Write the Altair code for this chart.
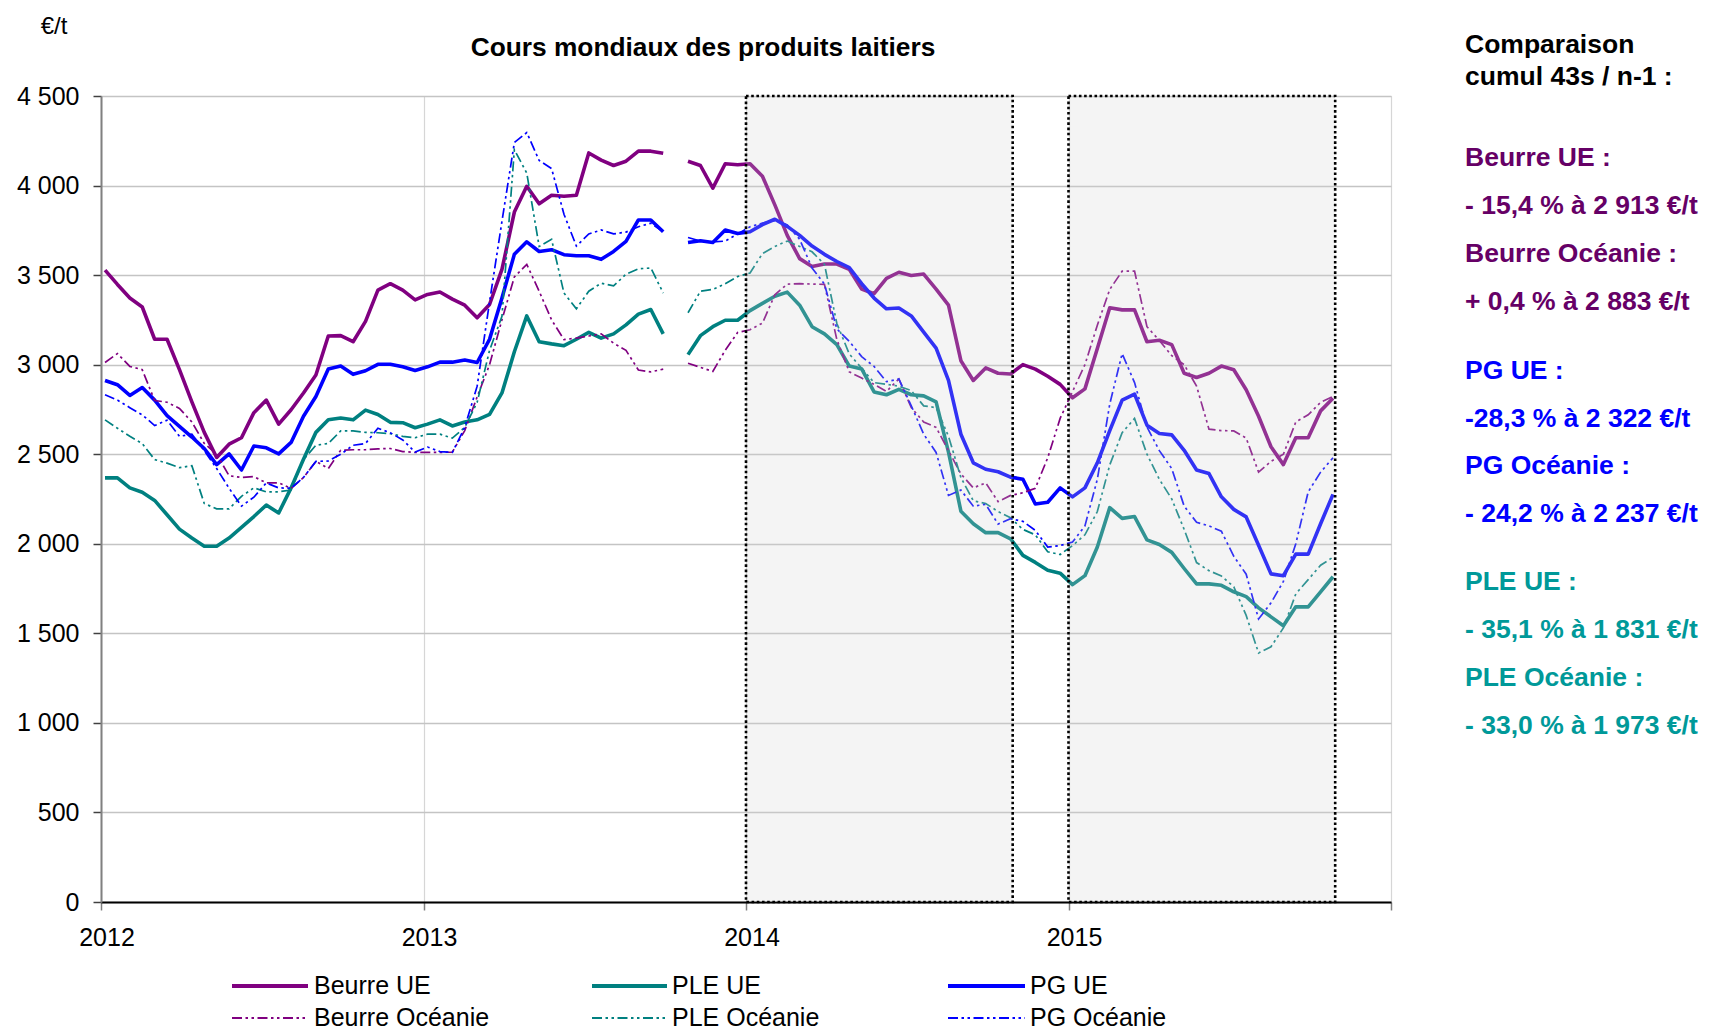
import altair as alt
import pandas as pd

# ---------------- data ----------------
series = ["Beurre UE", "PLE UE", "PG UE", "Beurre Océanie", "PLE Océanie", "PG Océanie"]
series_colors = ["#800080", "#008080", "#0000ff", "#800080", "#008080", "#0000ff"]

# one point every two weeks, from 2012 week 1 to 2015 week 43 (None = missing)
beurre_ue = [3528, 3448, 3372, 3322, 3142, 3142, 2972, 2792, 2622, 2482,
             2556, 2592, 2732, 2802, 2668, 2748, 2842, 2942, 3160, 3162,
             3128, 3242, 3416, 3452, 3416, 3362, 3392, 3406, 3366, 3332,
             3262, 3336, 3532, 3852, 3996, 3898, 3946, 3940, 3946, 4182,
             4142, 4112, 4136, 4192, 4192, 4180, None, 4136, 4112, 3986,
             4122, 4116, 4122, 4052, 3892, 3722, 3592, 3548, 3562, 3562,
             3532, 3422, 3396, 3482, 3516, 3498, 3506, 3422, 3332, 3022,
             2912, 2982, 2952, 2948, 3000, 2975, 2935, 2890, 2815, 2865,
             3090, 3318, 3306, 3306, 3128, 3136, 3112, 2952, 2928, 2952,
             2992, 2972, 2860, 2712, 2542, 2442, 2592, 2592, 2742, 2812]
ple_ue = [2368, 2368, 2312, 2288, 2242, 2162, 2082, 2032, 1986, 1986,
          2032, 2092, 2152, 2216, 2172, 2312, 2472, 2622, 2692, 2702,
          2692, 2746, 2722, 2678, 2676, 2648, 2668, 2692, 2658, 2680,
          2692, 2722, 2842, 3072, 3272, 3128, 3116, 3106, 3142, 3180,
          3148, 3172, 3222, 3282, 3308, 3172, None, 3056, 3162, 3212,
          3248, 3248, 3302, 3342, 3382, 3405, 3332, 3212, 3172, 3112,
          2992, 2976, 2848, 2832, 2862, 2832, 2826, 2792, 2512, 2182,
          2112, 2062, 2062, 2028, 1935, 1896, 1852, 1836, 1772, 1822,
          1982, 2202, 2142, 2152, 2022, 1996, 1952, 1862, 1776, 1776,
          1768, 1732, 1705, 1642, 1592, 1542, 1648, 1648, 1732, 1816]
pg_ue = [2912, 2888, 2828, 2872, 2802, 2716, 2656, 2596, 2532, 2442,
         2502, 2412, 2546, 2536, 2502, 2566, 2712, 2822, 2976, 2992,
         2946, 2966, 3002, 3002, 2988, 2968, 2988, 3014, 3014, 3026,
         3012, 3142, 3372, 3616, 3686, 3632, 3642, 3614, 3608, 3608,
         3588, 3632, 3688, 3808, 3808, 3742, None, 3682, 3692, 3682,
         3752, 3732, 3742, 3782, 3812, 3772, 3722, 3662, 3616, 3576,
         3542, 3452, 3372, 3312, 3316, 3272, 3182, 3092, 2912, 2612,
         2452, 2416, 2402, 2372, 2360, 2222, 2232, 2312, 2262, 2312,
         2452, 2632, 2802, 2836, 2662, 2616, 2608, 2522, 2412, 2392,
         2262, 2192, 2150, 1992, 1832, 1822, 1942, 1942, 2112, 2276]
beurre_oce = [3012, 3062, 2990, 2972, 2800, 2790, 2756, 2680, 2560, 2500,
              2380, 2370, 2375, 2340, 2340, 2310, 2370, 2460, 2420, 2522,
              2525, 2525, 2530, 2532, 2515, 2510, 2510, 2510, 2512, 2632,
              2820, 3000, 3250, 3490, 3560, 3410, 3250, 3140, 3148, 3160,
              3172, 3120, 3080, 2970, 2960, 2975, None, 3008, 2985, 2962,
              3080, 3180, 3195, 3232, 3390, 3450, 3452, 3450, 3448, 3140,
              2960, 2925, 2890, 2850, 2920, 2760, 2680, 2650, 2520, 2390,
              2312, 2340, 2235, 2270, 2285, 2310, 2480, 2700, 2850, 3000,
              3220, 3420, 3522, 3522, 3212, 3135, 3050, 3000, 2880, 2640,
              2632, 2630, 2590, 2400, 2460, 2500, 2680, 2720, 2790, 2822]
ple_oce = [2692, 2645, 2600, 2560, 2470, 2450, 2425, 2436, 2225, 2195,
           2195, 2265, 2312, 2290, 2290, 2300, 2470, 2550, 2560, 2630,
           2630, 2622, 2620, 2615, 2600, 2592, 2612, 2612, 2590, 2650,
           2790, 3080, 3270, 4200, 4070, 3660, 3700, 3400, 3312, 3410,
           3455, 3440, 3505, 3535, 3540, 3400, None, 3290, 3410, 3420,
           3452, 3492, 3512, 3620, 3660, 3690, 3660, 3630, 3560, 3230,
           3060, 2980, 2900, 2890, 2880, 2855, 2770, 2760, 2600, 2370,
           2240, 2225, 2180, 2145, 2080, 2050, 1955, 1940, 1990, 2050,
           2180, 2440, 2620, 2700, 2500, 2360, 2250, 2080, 1895, 1850,
           1820, 1760, 1600, 1390, 1425, 1530, 1720, 1800, 1880, 1925]
pg_oce = [2832, 2802, 2760, 2720, 2660, 2690, 2600, 2612, 2520, 2420,
          2310, 2210, 2260, 2340, 2312, 2310, 2370, 2460, 2462, 2500,
          2550, 2560, 2645, 2620, 2580, 2512, 2540, 2515, 2510, 2650,
          2880, 3350, 3800, 4240, 4296, 4140, 4095, 3840, 3662, 3730,
          3752, 3730, 3740, 3770, 3790, 3742, None, 3710, 3690, 3685,
          3690, 3730, 3770, 3790, 3805, 3780, 3700, 3540, 3450, 3200,
          3130, 3045, 2990, 2905, 2920, 2770, 2612, 2510, 2270, 2300,
          2210, 2220, 2110, 2140, 2125, 2075, 1982, 1990, 2010, 2100,
          2360, 2780, 3062, 2900, 2652, 2520, 2420, 2210, 2120, 2100,
          2070, 1930, 1830, 1580, 1670, 1790, 2000, 2290, 2400, 2480]

n_points = len(beurre_ue)
annee = [2012 + (2 * k) // 52 for k in range(n_points)]
semaine = [(2 * k) % 52 + 1 for k in range(n_points)]
x_pos = [a + (s - 0.35) / 52 for a, s in zip(annee, semaine)]

values_by_series = {
    "Beurre UE": beurre_ue, "PLE UE": ple_ue, "PG UE": pg_ue,
    "Beurre Océanie": beurre_oce, "PLE Océanie": ple_oce, "PG Océanie": pg_oce,
}

# shaded periods: weeks 1-43 of 2014 and of 2015
shade_years = [2014, 2015]
shade_last_week = 43

x_ticks = [2012, 2013, 2014, 2015, 2016]
x_labels = ["2012", "2013", "2014", "2015"]
y_ticks = [0, 500, 1000, 1500, 2000, 2500, 3000, 3500, 4000, 4500]

title_text = "Cours mondiaux  des produits laitiers"
unit_text = "€/t"
side_texts = ["Comparaison", "cumul 43s / n-1 :",
              "Beurre UE :", "- 15,4 % à 2 913 €/t",
              "Beurre Océanie :", "+ 0,4 % à 2 883 €/t",
              "PG UE :", "-28,3 % à 2 322 €/t",
              "PG Océanie :", "- 24,2 % à 2 237 €/t",
              "PLE UE :", "- 35,1 % à 1 831 €/t",
              "PLE Océanie :", "- 33,0 % à 1 973 €/t"]
side_colors = ["#000000", "#000000",
               "#660066", "#660066", "#660066", "#660066",
               "#0000ff", "#0000ff", "#0000ff", "#0000ff",
               "#009999", "#009999", "#009999", "#009999"]

# ---------------- build tables ----------------
rows = []
for s in series:
    for xv, v in zip(x_pos, values_by_series[s]):
        rows.append({"serie": s, "x": xv, "valeur": v})
df = pd.DataFrame(rows)
df_ue = df[df["serie"].str.endswith("UE")]
df_oce = df[df["serie"].str.endswith("Océanie")]

shade_df = pd.DataFrame({"debut": [float(y) for y in shade_years],
                         "fin": [y + shade_last_week / 52 for y in shade_years]})
xlab_df = pd.DataFrame({"annee": [int(v) for v in x_labels], "label": x_labels})

# ---------------- layout ----------------
W, H = 1290, 806
FONT = "Liberation Sans"
DASH = [10, 3.5, 2.5, 3.5, 2.5, 3.5]

xscale = alt.Scale(domain=[2012, 2016], nice=False, zero=False)
yscale = alt.Scale(domain=[0, 4500], nice=False)
color_scale = alt.Scale(domain=series, range=series_colors)

xaxis = alt.Axis(values=x_ticks, title=None, labels=False,
                 grid=True, gridColor="#d6d6d6", gridWidth=1.2,
                 domainColor="#000000", domainWidth=2,
                 tickColor="#808080", tickSize=8, tickWidth=1.5)
yaxis = alt.Axis(values=y_ticks, title=None,
                 labelExpr="replace(format(datum.value, ','), ',', ' ')",
                 grid=True, gridColor="#c4c4c4", gridWidth=1.4,
                 domainColor="#808080", domainWidth=2,
                 tickColor="#404040", tickSize=8, tickWidth=1.5,
                 labelFont=FONT, labelFontSize=25, labelColor="#000000",
                 labelPadding=14, labelFlush=False, labelOverlap=False)

enc_x = alt.X("x:Q", scale=xscale, axis=xaxis)
enc_y = alt.Y("valeur:Q", scale=yscale, axis=yaxis)
enc_c = alt.Color("serie:N", scale=color_scale, legend=None)

lines_ue = alt.Chart(df_ue).mark_line(strokeWidth=3.6, strokeJoin="round").encode(
    x=enc_x, y=enc_y, color=enc_c)
lines_oce = alt.Chart(df_oce).mark_line(strokeWidth=1.7, strokeDash=DASH).encode(
    x=enc_x, y=enc_y, color=enc_c)

shade = alt.Chart(shade_df).mark_rect(
    fill="#cfcfcf", fillOpacity=0.24, stroke="#000000", strokeWidth=2.6,
    strokeDash=[2.6, 2.6]).encode(
    x=alt.X("debut:Q", scale=xscale), x2="fin:Q",
    y=alt.datum(4500), y2=alt.datum(0))

xlabels = alt.Chart(xlab_df).mark_text(
    align="center", baseline="middle", font=FONT, fontSize=25, color="#000000",
    dx=6).encode(x=alt.X("annee:Q", scale=xscale), y=alt.value(H + 36), text="label:N")


def text_layer(s, x, y, size, color="#000000", weight="normal", align="left"):
    return alt.Chart(pd.DataFrame({"t": [s]})).mark_text(
        align=align, baseline="middle", font=FONT, fontSize=size,
        fontWeight=weight, color=color).encode(
        x=alt.value(x), y=alt.value(y), text="t:N")


def rule_layer(x1, x2, y, color, width, dash=None):
    kw = dict(color=color, strokeWidth=width)
    if dash:
        kw["strokeDash"] = dash
    return alt.Chart(pd.DataFrame({"t": [0]})).mark_rule(**kw).encode(
        x=alt.value(x1), x2=alt.value(x2), y=alt.value(y))


layers = [lines_ue, lines_oce, shade, xlabels]
layers.append(text_layer(title_text, 602, -48, 26.3, weight="bold", align="center"))
layers.append(text_layer(unit_text, -47, -69, 24, align="center"))

side_y = [43.6, 76.3, 157, 205, 253, 301, 369.5, 417.5, 465, 513, 581, 629, 677, 725]
for s, c, yy in zip(side_texts, side_colors, side_y):
    layers.append(text_layer(s, 1364, yy - 96 + 1, 26.5, color=c, weight="bold"))

# legend (3 columns x 2 rows)
leg_cols_sym = [(131, 207), (491, 566), (847, 924)]
leg_cols_txt = [213, 571, 929]
leg_rows = [890, 922]
for i, s in enumerate(series):
    r, c = divmod(i, 3)
    x1, x2 = leg_cols_sym[c]
    if r == 0:
        layers.append(rule_layer(x1, x2, leg_rows[r], series_colors[i], 4))
    else:
        layers.append(rule_layer(x1, x2, leg_rows[r], series_colors[i], 2, DASH))
    layers.append(text_layer(s, leg_cols_txt[c], leg_rows[r], 25))

chart = alt.layer(*layers).properties(
    width=W, height=H,
    padding={"left": 93, "top": 88, "right": 308, "bottom": 128},
    autosize=alt.AutoSizeParams(type="none"),
).configure_view(stroke=None).configure(background="#ffffff")

chart.save("out.html", embed_options={"renderer": "svg", "actions": False})
